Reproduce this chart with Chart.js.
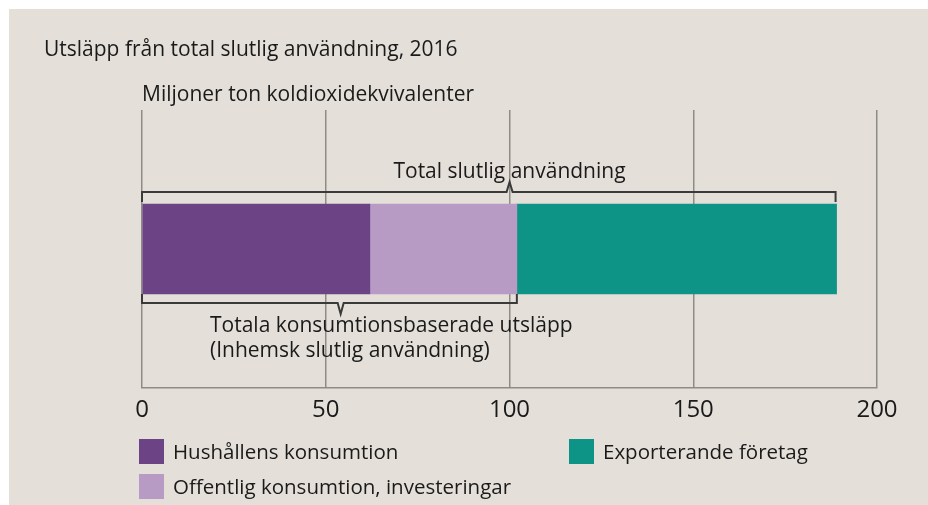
<!DOCTYPE html>
<html>
<head>
<meta charset="utf-8">
<script src="https://cdn.jsdelivr.net/npm/chart.js@4"></script>
<style>
  body { margin: 0; background: #fff; font-family: "Open Sans", sans-serif; color: #1a1a1a; }
  #wrap { position: absolute; left: 9px; top: 9px; width: 919px; height: 496px; background: #e4e0d9; }
  #chart { position: absolute; left: 0; top: 0; }
  .txt { position: absolute; font-size: 21px; white-space: nowrap; line-height: 24px; }
  .leg { position: absolute; font-size: 20.5px; white-space: nowrap; line-height: 25px; }
  .leg i { display: inline-block; width: 25px; height: 25px; vertical-align: top; margin-right: 9px; }
</style>
</head>
<body>
<div id="wrap">
  <canvas id="chart" width="919" height="496"></canvas>
  <div class="txt" style="left:35px; top:27px;">Utsläpp från total slutlig användning, 2016</div>
  <div class="txt" style="left:133px; top:72px;">Miljoner ton koldioxidekvivalenter</div>
  <div id="legend"></div>
</div>
<script>
const categories = ['2016'];
const seriesNames = ['Hushållens konsumtion', 'Offentlig konsumtion, investeringar', 'Exporterande företag'];
const seriesColors = ['#6c4385', '#b79bc4', '#0e9387'];
const household = [62];
const publicInvest = [40];
const exporting = [87];
const xTicks = [0, 50, 100, 150, 200];

const seriesValues = [household, publicInvest, exporting];

// legend laid out like the original: two columns
const legendSpots = [[130, 430], [130, 465], [560, 430]];
const legendEl = document.getElementById('legend');
seriesNames.forEach((name, i) => {
    const d = document.createElement('div');
    d.className = 'leg';
    d.style.left = legendSpots[i][0] + 'px';
    d.style.top = legendSpots[i][1] + 'px';
    d.innerHTML = '<i style="background:' + seriesColors[i] + '"></i>' + name;
    legendEl.appendChild(d);
});

// brackets above / below the bar
const bracketPlugin = {
    id: 'brackets',
    afterDatasetsDraw(chart) {
        const c = chart.ctx;
        const x = chart.scales.x;
        const meta = chart.getDatasetMeta(0);
        const bar = meta.data[0];
        const top = bar.y - bar.height / 2;
        const bottom = bar.y + bar.height / 2;
        const domestic = household[0] + publicInvest[0];
        const total = domestic + exporting[0];

        c.save();
        c.strokeStyle = '#3a3a3a';
        c.lineWidth = 2;
        c.lineJoin = 'miter';

        // top bracket: total
        let x0 = x.getPixelForValue(0), x1 = x.getPixelForValue(total) - 1;
        let y = top - 12, pk = x0 + (x1 - x0) * 0.53;
        c.beginPath();
        c.moveTo(x0, top - 2);
        c.lineTo(x0, y);
        c.lineTo(pk - 3, y);
        c.lineTo(pk, y - 10);
        c.lineTo(pk + 3, y);
        c.lineTo(x1, y);
        c.lineTo(x1, top - 2);
        c.stroke();

        // bottom bracket: domestic
        x1 = x.getPixelForValue(domestic);
        y = bottom + 9;
        pk = x0 + (x1 - x0) * 0.53;
        c.beginPath();
        c.moveTo(x0, bottom);
        c.lineTo(x0, y);
        c.lineTo(pk - 3, y);
        c.lineTo(pk, y + 11);
        c.lineTo(pk + 3, y);
        c.lineTo(x1, y);
        c.lineTo(x1, bottom);
        c.stroke();

        c.fillStyle = '#1a1a1a';
        c.font = '21px "Open Sans"';
        c.textBaseline = 'middle';
        c.textAlign = 'center';
        c.fillText('Total slutlig användning', x.getPixelForValue(100), top - 32);
        c.textAlign = 'left';
        c.fillText('Totala konsumtionsbaserade utsläpp', x0 + 68, bottom + 32);
        c.fillText('(Inhemsk slutlig användning)', x0 + 68, bottom + 57);
        c.restore();
    }
};

const ctx = document.getElementById('chart');
new Chart(ctx, {
    type: 'bar',
    data: {
        labels: categories,
        datasets: seriesNames.map((name, i) => ({
            label: name,
            data: seriesValues[i],
            backgroundColor: seriesColors[i],
            borderWidth: 0,
            barThickness: 90
        }))
    },
    options: {
        indexAxis: 'y',
        responsive: false,
        animation: false,
        layout: { padding: { left: 133, right: 51, top: 101, bottom: 0 } },
        plugins: {
            legend: { display: false },
            title: { display: false },
            tooltip: { enabled: false }
        },
        scales: {
            x: {
                stacked: true,
                min: 0,
                max: 200,
                afterBuildTicks(scale) {
                    scale.ticks = xTicks.map(v => ({ value: v }));
                },
                afterFit(scale) { scale.height = 117; },
                grid: { color: '#8d8b86', lineWidth: 1.5, drawTicks: false },
                border: { display: true, color: '#8d8b86', width: 1.5 },
                ticks: {
                    padding: 8,
                    color: '#1a1a1a',
                    font: { family: 'Open Sans', size: 24 },
                    maxRotation: 0
                }
            },
            y: {
                stacked: true,
                display: false
            }
        }
    },
    plugins: [bracketPlugin]
});
</script>
</body>
</html>
